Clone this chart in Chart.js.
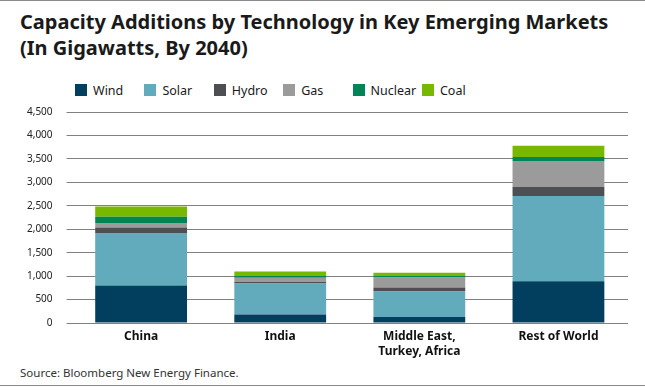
<!DOCTYPE html>
<html>
<head>
<meta charset="utf-8">
<script src="https://cdn.jsdelivr.net/npm/chart.js@4"></script>
<style>
  body { margin: 0; background: #fff; }
  #wrap { position: relative; width: 645px; height: 390px; overflow: hidden; font-family: "Noto Sans", sans-serif; }
  #topline { position: absolute; left: 0; top: 0; width: 645px; height: 1px; background: #8a8a8a; }
  #botline { position: absolute; left: 0; top: 385px; width: 645px; height: 1px; background: #8a8a8a; }
  #title { position: absolute; left: 20px; top: 9px; font-weight: bold; font-size: 20px; line-height: 26px; color: #1a1a1a; }
  #legend { position: absolute; left: 75px; top: 82px; height: 16px; display: flex; }
  #legend .item { width: 69.4px; display: flex; align-items: center; font-size: 12.5px; color: #1a1a1a; white-space: nowrap; }
  #legend .sw { width: 12px; height: 12px; margin-right: 6px; flex: none; }
  #box { position: absolute; left: 0; top: 92px; width: 645px; height: 273px; }
  #source { position: absolute; left: 20px; top: 365px; font-size: 11.5px; color: #333; }
</style>
</head>
<body>
<div id="wrap">
  <div id="topline"></div>
  <div id="title">Capacity Additions by Technology in Key Emerging Markets<br>(In Gigawatts, By 2040)</div>
  <div id="legend"></div>
  <div id="box"><canvas id="chart"></canvas></div>
  <div id="source">Source: Bloomberg New Energy Finance.</div>
  <div id="botline"></div>
</div>
<script>
var regions = ["China", "India", ["Middle East,", "Turkey, Africa"], "Rest of World"];

var wind    = [800, 180, 130, 890];
var solar   = [1120, 660, 540, 1820];
var hydro   = [115, 35, 85, 190];
var gas     = [100, 90, 215, 555];
var nuclear = [130, 35, 35, 85];
var coal    = [220, 100, 65, 240];

var names  = ["Wind", "Solar", "Hydro", "Gas", "Nuclear", "Coal"];
var series = [wind, solar, hydro, gas, nuclear, coal];
var colors = ["#023f5f", "#62abbd", "#4d4f53", "#9b9b9b", "#008556", "#78b800"];

var datasets = [];
var legend = document.getElementById("legend");
for (let i = 0; i < names.length; i++) {
    datasets.push({
        label: names[i],
        data: series[i],
        backgroundColor: colors[i],
        borderWidth: 0,
        barPercentage: 0.66,
        categoryPercentage: 1
    });
    var item = document.createElement("div");
    item.className = "item";
    var sw = document.createElement("span");
    sw.className = "sw";
    sw.style.background = colors[i];
    item.appendChild(sw);
    item.appendChild(document.createTextNode(names[i]));
    legend.appendChild(item);
}

new Chart("chart", {
    type: "bar",
    data: { labels: regions, datasets: datasets },
    options: {
        responsive: true,
        maintainAspectRatio: false,
        animation: false,
        layout: { padding: { left: 13, right: 17, top: 5, bottom: 0 } },
        plugins: {
            tooltip: { enabled: false },
            legend: { display: false }
        },
        scales: {
            x: {
                stacked: true,
                grid: { display: false, drawTicks: false },
                border: { display: false },
                ticks: {
                    color: "#111",
                    padding: 6,
                    font: { family: "Noto Sans", size: 12, weight: "bold", lineHeight: 1.25 }
                }
            },
            y: {
                stacked: true,
                min: 0,
                max: 4500,
                border: { display: false },
                grid: { color: "#808080", lineWidth: 1, tickLength: 5 },
                ticks: {
                    stepSize: 500,
                    padding: 14,
                    color: "#222",
                    font: { family: "Noto Sans", size: 10 },
                    callback: function (v) { return v.toLocaleString("en-US"); }
                }
            }
        }
    }
});
</script>
</body>
</html>
